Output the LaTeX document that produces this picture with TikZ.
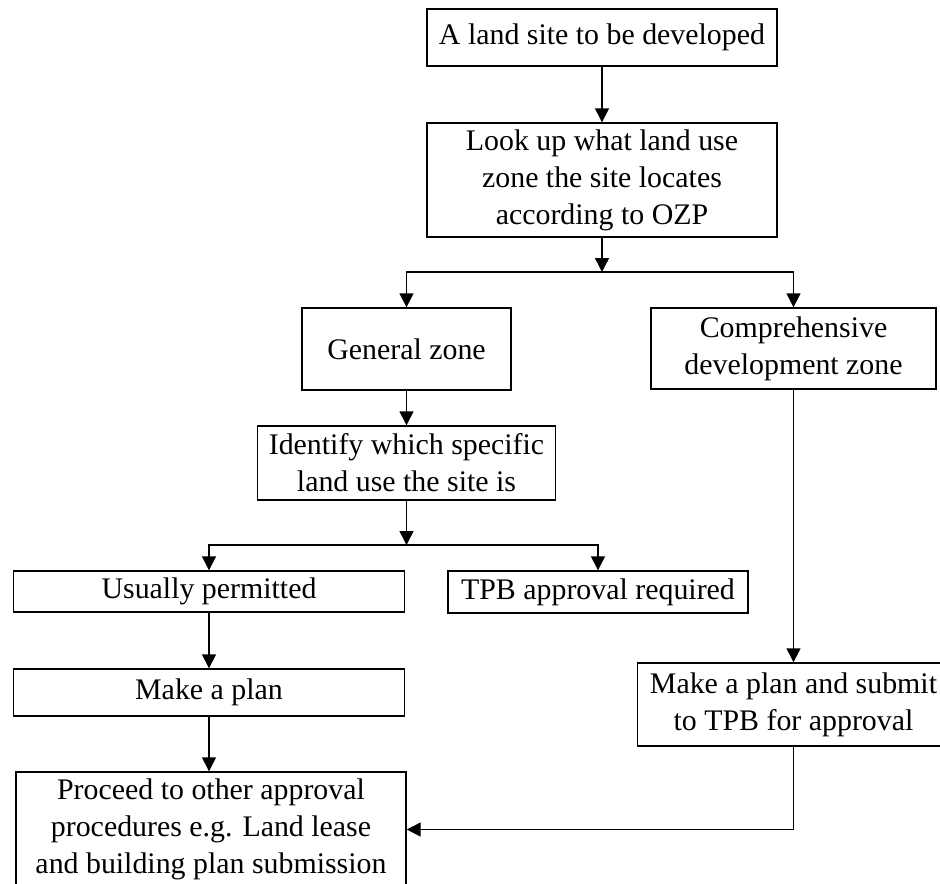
\documentclass[tikz,border=0pt]{standalone}
\usepackage{fontspec}
\setmainfont{Liberation Serif}
\usepackage{tikz}
\usetikzlibrary{arrows.meta,positioning}

\tikzset{
  stage/.style={draw,rectangle,align=center,inner sep=2pt,line width=0.8pt,
    font=\fontsize{17}{21}\selectfont},
  flow/.style={-{Triangle[length=2.8mm,width=2.8mm]},line width=0.8pt}
}

\begin{document}
\begin{tikzpicture}
    \useasboundingbox (0,0) rectangle (18.8,-17.66);
    \clip (0,0) rectangle (18.8,-17.66);
    % \draw[help lines] (0,-18) grid (19,0);
    \node[stage,minimum width=7cm,minimum height=1.14cm]    (site) at (12.04,-0.75)
        {A land site to be developed};
    \node[stage,minimum width=7cm,minimum height=2.28cm]    (lookup) at (12.04,-3.6)
        {Look up what land use\\zone the site locates\\according to OZP};
    \node[stage,minimum width=4.18cm,minimum height=1.64cm] (general) at (8.13,-6.98)
        {General zone};
    \node[stage,minimum width=5.7cm,minimum height=1.62cm]  (cdz) at (15.87,-6.97)
        {Comprehensive\\development zone};
    \node[stage,minimum width=5.96cm,minimum height=1.48cm] (identify) at (8.13,-9.26)
        {Identify which specific\\land use the site is};
    \node[stage,minimum width=7.82cm,minimum height=0.82cm] (permitted) at (4.18,-11.83)
        {Usually permitted};
    \node[stage,minimum width=6cm,minimum height=0.84cm]    (tpb) at (11.96,-11.84)
        {TPB approval required};
    \node[stage,minimum width=7.82cm,minimum height=0.94cm] (plan) at (4.18,-13.85)
        {Make a plan};
    \node[stage,minimum width=6.24cm,minimum height=1.66cm] (submit) at (15.87,-14.09)
        {Make a plan and submit\\to TPB for approval};
    \node[stage,minimum width=7.8cm,minimum height=2.3cm]   (proceed) at (4.22,-16.59)
        {Proceed to other approval\\procedures e.g. Land lease\\and building plan submission};

    % branching points
    \coordinate (j1) at (12.04,-5.44);
    \coordinate (j2) at (8.13,-10.9);

    \draw[flow] (site) -- (lookup);
    \draw[flow] (lookup) -- (j1);
    \draw[flow] (j1) -| (general.north);
    \draw[flow] (j1) -| (cdz.north);
    \draw[flow] (general) -- (identify);
    \draw[flow] (identify) -- (j2);
    \draw[flow] (j2) -| (permitted.north);
    \draw[flow] (j2) -| (tpb.north);
    \draw[flow] (permitted) -- (plan);
    \draw[flow] (plan.south) -- (plan.south |- proceed.north);
    \draw[flow] (cdz) -- (submit);
    \draw[flow] (submit.south) |- (proceed.east);
\end{tikzpicture}
\end{document}
